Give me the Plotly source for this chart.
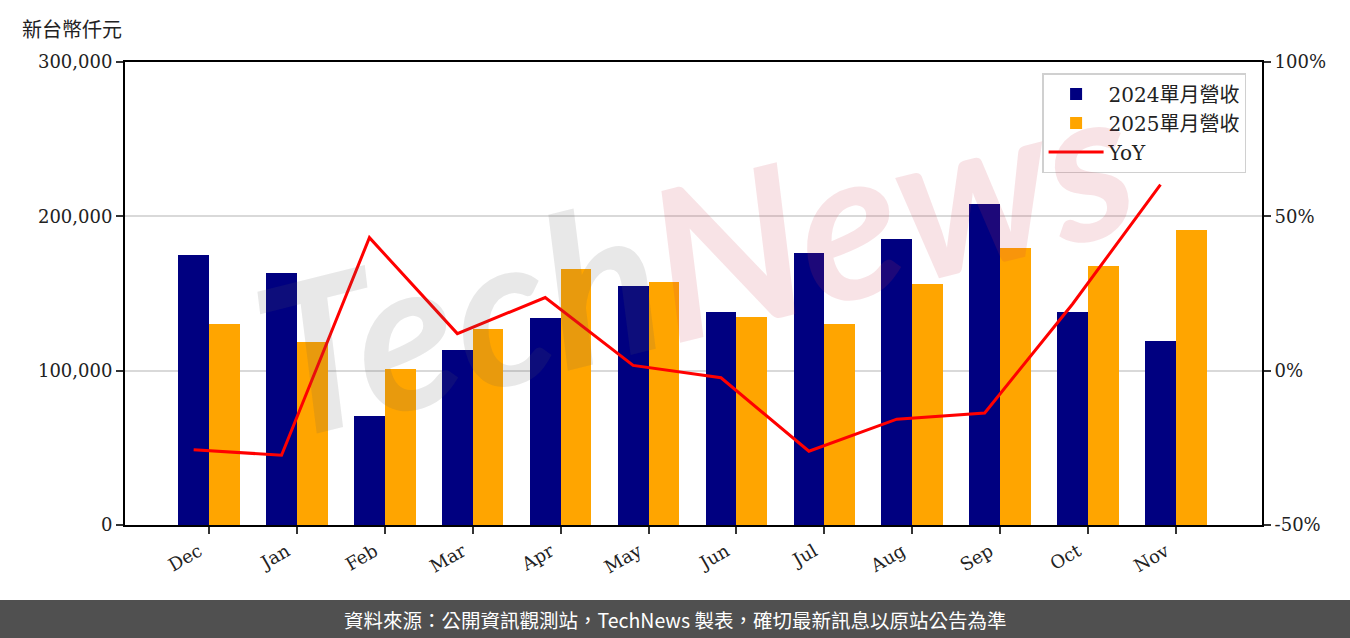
import plotly.graph_objects as go

months = ["Dec", "Jan", "Feb", "Mar", "Apr", "May", "Jun", "Jul", "Aug", "Sep", "Oct", "Nov"]
rev_2024 = [175000, 163300, 70600, 113400, 134100, 154900, 138000, 176200, 185300, 208000, 138000, 119200]
rev_2025 = [130200, 118600, 101100, 127000, 165900, 157500, 134800, 130200, 156200, 179500, 167800, 191100]
yoy = [-25.6, -27.4, 43.1, 12.0, 23.7, 1.7, -2.3, -26.1, -15.7, -13.7, 21.6, 60.3]

left_ticks = [0, 100000, 200000, 300000]
left_ticktext = ["0", "100,000", "200,000", "300,000"]
right_ticks = [-50, 0, 50, 100]
right_ticktext = ["-50%", "0%", "50%", "100%"]

idx = list(range(len(months)))
bw = 0.35
x24 = [i - bw / 2 for i in idx]
x25 = [i + bw / 2 for i in idx]

SERIF = "DejaVu Serif"
CJK = "Noto Sans CJK TC"

fig = go.Figure()
fig.add_trace(go.Bar(x=x24, y=rev_2024, width=bw, name="2024單月營收",
                     marker=dict(color="#000080", line=dict(width=0))))
fig.add_trace(go.Bar(x=x25, y=rev_2025, width=bw, name="2025單月營收",
                     marker=dict(color="#FFA500", line=dict(width=0))))
fig.add_trace(go.Scatter(x=x24, y=yoy, name="YoY", mode="lines",
                         line=dict(color="#FF0000", width=3), yaxis="y2"))

fig.update_layout(
    width=1350, height=638,
    margin=dict(l=125, r=88, t=62, b=113),
    paper_bgcolor="white", plot_bgcolor="white",
    barmode="overlay", bargap=0,
    font=dict(family=SERIF + ", " + CJK, size=18, color="#222222"),
    showlegend=True,
    legend=dict(x=0.986, y=0.976, xanchor="right", yanchor="top",
                bgcolor="rgba(255,255,255,0.85)", bordercolor="#d0d0d0", borderwidth=1.5,
                font=dict(family=SERIF + ", " + CJK, size=20, color="#222222"),
                itemwidth=55, tracegroupgap=0),
    xaxis=dict(range=[-0.956, 11.98], tickmode="array", tickvals=idx, ticktext=months,
               tickangle=-30, ticks="outside", ticklen=7, tickwidth=2, tickcolor="#333",
               ticklabelshift=-10,
               showline=True, linecolor="black", linewidth=2, mirror=True,
               showgrid=False, zeroline=False,
               tickfont=dict(family=SERIF, size=18)),
    yaxis=dict(range=[0, 300000], tickmode="array", tickvals=left_ticks, ticktext=left_ticktext,
               ticks="outside", ticklen=7, tickwidth=2, tickcolor="#333",
               showline=True, linecolor="black", linewidth=2,
               showgrid=True, gridcolor="#d9d9d9", gridwidth=1.5, zeroline=False,
               tickfont=dict(family=SERIF, size=18)),
    yaxis2=dict(range=[-50, 100], tickmode="array", tickvals=right_ticks, ticktext=right_ticktext,
                overlaying="y", side="right",
                ticks="outside", ticklen=7, tickwidth=2, tickcolor="#333",
                showline=True, linecolor="black", linewidth=2,
                showgrid=False, zeroline=False,
                tickfont=dict(family=SERIF, size=18)),
)

# footer bar
fig.add_shape(type="rect", xref="paper", yref="paper",
              x0=-0.12, x1=1.09, y0=-0.162, y1=-0.26,
              fillcolor="#505050", line=dict(width=0), layer="above")
fig.add_annotation(xref="paper", yref="paper", x=(675 - 125) / 1137, y=(525 - 619) / 463,
                   text="資料來源：公開資訊觀測站，TechNews 製表，確切最新訊息以原站公告為準",
                   showarrow=False, xanchor="center", yanchor="middle",
                   font=dict(family=CJK, size=19.5, color="white"))

# y-axis unit label
fig.add_annotation(xref="paper", yref="paper", x=(20 - 125) / 1137, y=(525 - 28) / 463,
                   text="新台幣仟元", showarrow=False, xanchor="left", yanchor="middle",
                   font=dict(family=CJK, size=20, color="#222222"))

# watermark
fig.add_annotation(xref="paper", yref="paper", x=0.5, y=0.58,
                   text="<span style='color:rgba(90,90,90,0.14)'>Tech</span>"
                        "<span style='color:rgba(205,60,80,0.14)'>News</span>",
                   showarrow=False, textangle=-14, xanchor="center", yanchor="middle",
                   font=dict(family="Lato", size=210, color="rgb(90,90,90)",
                             style="italic", weight="bold"))

fig.write_html("out.html", config={"displayModeBar": False},
               post_script="document.body.style.margin='0';")
